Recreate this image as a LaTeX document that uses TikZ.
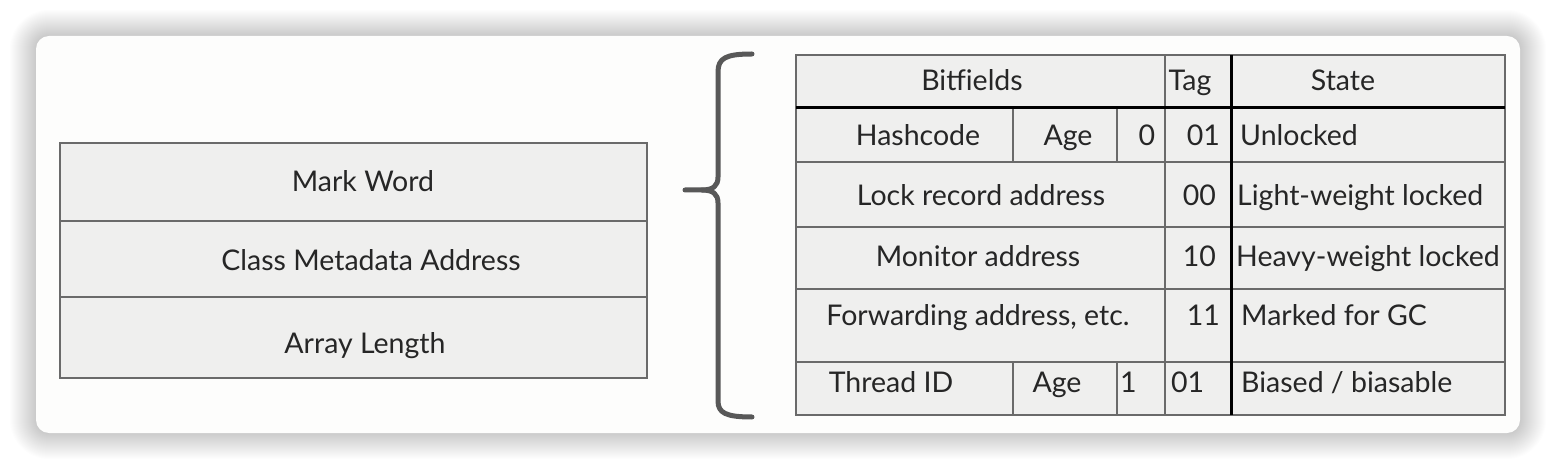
\documentclass[tikz,border=0pt]{standalone}
\usepackage{fontspec}
\setmainfont{Lato}
\definecolor{cellfill}{HTML}{EFEFEE}
\definecolor{cardfill}{HTML}{FDFDFC}
\definecolor{gridline}{HTML}{6A6A6A}
\definecolor{txt}{HTML}{262626}
\definecolor{bracecol}{HTML}{585858}
\tikzset{
  thin grid/.style={draw=gridline, line width=1.6pt},
  thick grid/.style={draw=black, line width=3pt},
  lbl/.style={inner sep=0pt, text=txt, font=\fontsize{28.5}{31}\selectfont},
  bracestroke/.style={draw=bracecol, line width=5pt, line cap=round, line join=round},
}
\begin{document}
\begin{tikzpicture}[x=1pt,y=-1pt]
\useasboundingbox (0,0) rectangle (1556,470);
\fill[white] (0,0) rectangle (1556,470);
% soft shadow around card
\foreach \i in {1,...,26}{
  \fill[black, opacity=0.007, rounded corners={13pt+\i pt}] (36-\i,36-\i) rectangle (1520+\i,433+\i);
}
% card
\node[draw=none, fill=cardfill, rounded corners=13pt, minimum width=1484pt, minimum height=397pt, inner sep=0pt]
  (card) at (778,234.5) {};

% left table
\fill[cellfill] (60,143) rectangle (647,378);
\draw[thin grid] (60,143) rectangle (647,378);
\draw[thin grid] (60,221) -- (647,221);
\draw[thin grid] (60,297) -- (647,297);
\node[lbl, anchor=base] (mw) at (363,192) {Mark Word};
\node[lbl, anchor=base] (cma) at (371,271) {Class Metadata Address};
\node[lbl, anchor=base] (al) at (365,353) {Array Length};

% brace
\draw[bracestroke] (752,54) .. controls (726,54) and (718,58) .. (718,72) -- (718,177)
  .. controls (718,186) and (713,190) .. (702,190) -- (685,190);
\draw[bracestroke] (702,190) .. controls (713,190) and (718,194) .. (718,203) -- (718,401)
  .. controls (718,413) and (726,417) .. (752,417);

% right table
\fill[cellfill] (796,55) rectangle (1505,415);
\draw[thin grid] (796,55) rectangle (1505,415);
\draw[thin grid] (796,162) -- (1505,162);
\draw[thin grid] (796,227) -- (1505,227);
\draw[thin grid] (796,289) -- (1505,289);
\draw[thin grid] (796,362) -- (1505,362);
\draw[thin grid] (1013,108) -- (1013,162);
\draw[thin grid] (1117,108) -- (1117,162);
\draw[thin grid] (1013,362) -- (1013,415);
\draw[thin grid] (1117,362) -- (1117,415);
\draw[thin grid] (1165,55) -- (1165,415);
\draw[thick grid] (796,108) -- (1505,108);
\draw[thick grid] (1231,55) -- (1231,415);

% header
\node[lbl, anchor=base] (bf) at (972,91) {Bitf\kern0pt ields};
\node[lbl, anchor=base] (tag) at (1190,91) {Tag};
\node[lbl, anchor=base] (st) at (1343,91) {State};
% row 1
\node[lbl, anchor=base] (hc) at (918,146) {Hashcode};
\node[lbl, anchor=base] (age1) at (1068,146) {Age};
\node[lbl, anchor=base] (b0) at (1147,146) {0};
\node[lbl, anchor=base east] (t1) at (1220,146) {01};
\node[lbl, anchor=base west] (s1) at (1240,146) {Unlocked};
% row 2
\node[lbl, anchor=base] (lra) at (981,206) {Lock record address};
\node[lbl, anchor=base east] (t2) at (1216,206) {00};
\node[lbl, anchor=base west] (s2) at (1237,206) {Light-weight locked};
% row 3
\node[lbl, anchor=base] (ma) at (978,267) {Monitor address};
\node[lbl, anchor=base east] (t3) at (1216,267) {10};
\node[lbl, anchor=base west] (s3) at (1236,267) {Heavy-weight locked};
% row 4
\node[lbl, anchor=base] (fa) at (978,326) {Forwarding address, etc.};
\node[lbl, anchor=base east] (t4) at (1220,326) {11};
\node[lbl, anchor=base west] (s4) at (1241,326) {Marked for GC};
% row 5
\node[lbl, anchor=base] (tid) at (891,392) {Thread ID};
\node[lbl, anchor=base] (age5) at (1057,392) {Age};
\node[lbl, anchor=base west] (b1) at (1120,392) {1};
\node[lbl, anchor=base west] (t5) at (1171,392) {01};
\node[lbl, anchor=base west] (s5) at (1241,392) {Biased / biasable};
\end{tikzpicture}
\end{document}
